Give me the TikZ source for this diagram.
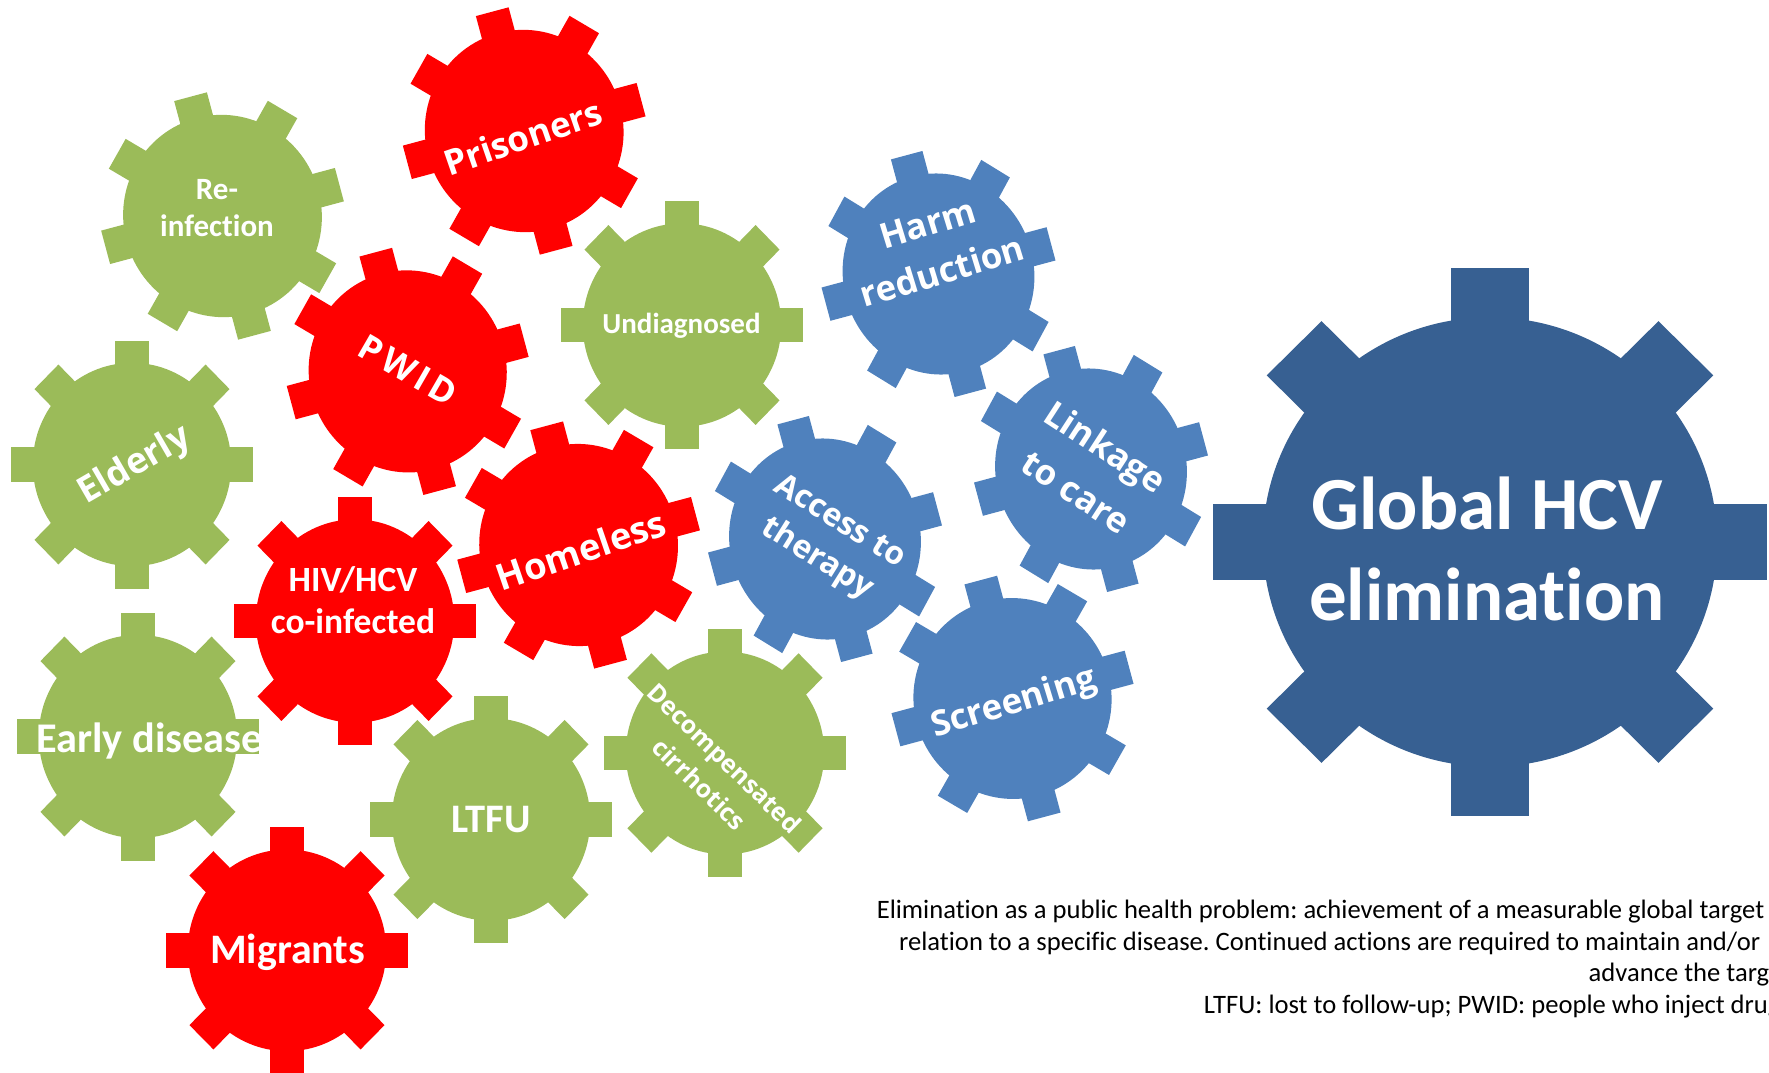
\documentclass[tikz,border=0pt]{standalone}
\usepackage{fontspec}
\setmainfont{Carlito}
\newfontfamily\calb[Ligatures=NoCommon]{Carlito}
\newfontfamily\osn{Open Sans}
\newfontfamily\osnW[LetterSpace=13]{Open Sans}

\definecolor{gGreen}{RGB}{155,187,89}
\definecolor{gRed}{RGB}{255,0,0}
\definecolor{gBlue}{RGB}{79,129,189}
\definecolor{gNavy}{RGB}{55,96,146}

\tikzset{
  % eight-tooth cog in unit size: hub of radius 0.82, square teeth reaching 1
  pics/cog/.style={code={
    \fill[#1] (0,0) circle[radius=0.82];
    \foreach \a in {0,45,90,135}
      \fill[#1,rotate=\a] (-1,-0.14) -- (1,-0.14) -- (1,0.14) -- (-1,0.14) -- cycle;
  }},
  lbl/.style={text=white, inner sep=0pt, align=center},
  % family, size, line distance
  fs/.style n args={3}{font={#1\bfseries\fontsize{#2}{#3}\selectfont}},
}

\begin{document}
\frenchspacing
\begin{tikzpicture}[x=1pt,y=-1pt]
\useasboundingbox (0,0) rectangle (1769,1073);
\clip (0,0) rectangle (1769,1073);

% cogs: position, rotation, width/height radii, colour
\pic[rotate=15, xscale=121, yscale=123.5] at (222.5,216) {cog=gGreen};
\pic[rotate=15, xscale=121, yscale=123.5] at (524.2,131) {cog=gRed};
\pic[xscale=121, yscale=124] at (132,464.5) {cog=gGreen};
\pic[rotate=15, xscale=120.6, yscale=123.4] at (407.7,371.4) {cog=gRed};
\pic[xscale=121, yscale=124] at (682,325) {cog=gGreen};
\pic[rotate=15, xscale=116.5, yscale=123] at (938.5,274) {cog=gBlue};
\pic[rotate=15, xscale=116.5, yscale=123] at (1091,469) {cog=gBlue};
\pic[rotate=15, xscale=116.5, yscale=123] at (825,539) {cog=gBlue};
\pic[rotate=15, xscale=121, yscale=123.4] at (578.6,545) {cog=gRed};
\pic[xscale=121, yscale=124] at (355,621) {cog=gRed};
\pic[xscale=121, yscale=124] at (138,736.5) {cog=gGreen};
\pic[xscale=121, yscale=123] at (287,950.3) {cog=gRed};
\pic[xscale=121, yscale=123.5] at (491,819.5) {cog=gGreen};
\pic[xscale=121, yscale=123.7] at (725,753) {cog=gGreen};
\pic[rotate=15, xscale=120.7, yscale=122.6] at (1012.5,698.5) {cog=gBlue};
\pic[xscale=277, yscale=274] at (1490,542) {cog=gNavy};

% cog labels
\node[lbl, fs={\calb}{31}{37}] (reinf) at (217,208) {Re-\\infection};
\node[lbl, fs={\osn}{35}{40}, rotate=19] (prisoners) at (523,137) {Prisoners};
\node[lbl, fs={\osn}{36}{40}, rotate=30] (elderly) at (135,466) {Elderly};
\node[lbl, fs={\osnW}{35}{40}, rotate=-30] (pwid) at (408,370) {PWID};
\node[lbl, fs={\calb}{29}{35}] (undiag) at (681.5,326) {Undiagnosed};
\node[lbl, fs={\osn}{35}{50}, rotate=17] (harm) at (935,247.5) {Harm\\reduction};
\node[lbl, fs={\osn}{35}{54}, rotate=-33] (linkage) at (1091,469) {Linkage\\to care};
\node[lbl, fs={\osn}{32}{43}, rotate=-32] (access) at (828,541) {Access to\\therapy};
\node[lbl, fs={\osn}{36.5}{40}, rotate=19] (homeless) at (581,550) {Homeless};
\node[lbl, fs={\calb}{35.5}{42}] (hiv) at (353,600) {HIV/HCV\\co-infected};
\node[lbl, fs={\calb}{42.3}{48}] (early) at (149.5,741) {Early disease};
\node[lbl, fs={\calb}{42}{48}] (migrants) at (287.7,952) {Migrants};
\node[lbl, fs={\calb}{40.5}{46}] (ltfu) at (491,820) {LTFU};
\node[lbl, fs={\osn}{25}{36}, rotate=-44] (decomp) at (712,771) {Decompensated\\cirrhotics};
\node[lbl, fs={\osn}{35}{40}, rotate=17] (screening) at (1014,704) {Screening};
\node[lbl, fs={\calb}{75}{91}] (global) at (1487,549) {Global HCV\\elimination};

% footnote lines
\begin{scope}[every node/.style={anchor=base west, inner sep=0pt, text=black, font=\calb\fontsize{26.6}{32}\selectfont}]
\node (fn1) at (876.6,918) {Elimination as a public health problem: achievement of a measurable global target in};
\node (fn2) at (899,950) {relation to a specific disease. Continued actions are required to maintain and/or};
\node (fn3) at (1588.5,981.5) {advance the target.};
\node (fn4) at (1203.7,1013) {LTFU: lost to follow-up; PWID: people who inject drugs};
\end{scope}
\end{tikzpicture}
\end{document}
